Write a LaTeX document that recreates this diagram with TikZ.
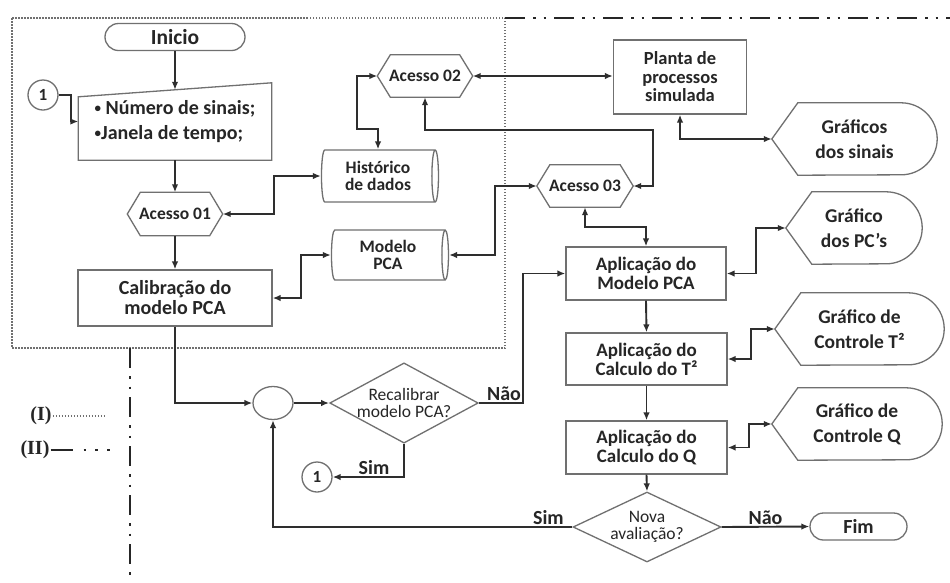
\documentclass[tikz,border=0pt]{standalone}
\usepackage{fontspec}
\setmainfont{Carlito}
\newfontfamily\legfont{Liberation Serif}
\usepackage{tikz}
\usetikzlibrary{shapes,arrows,arrows.meta,positioning}
\definecolor{linegray}{HTML}{707070}
\definecolor{arrowgray}{HTML}{2E2E2E}
\definecolor{txtgray}{HTML}{262626}
\newcommand{\smallbul}{\raisebox{1.5pt}{\fontsize{13}{13}\selectfont•}}

\begin{document}
\begin{tikzpicture}[x=1pt,y=-1pt,
  >={Latex[length=8pt,width=6.5pt]},
  every node/.style={text=txtgray},
  box/.style={draw=linegray,line width=1.3pt,rectangle,align=center,inner sep=0pt,font=\bfseries\fontsize{19}{19}\selectfont},
  term/.style={draw=linegray,line width=1.3pt,rounded rectangle,inner sep=0pt,font=\bfseries\fontsize{20}{20}\selectfont},
  hexa/.style={inner sep=0pt,font=\bfseries\fontsize{17.5}{17}\selectfont},
  disp/.style={inner sep=0pt,align=center,font=\bfseries\fontsize{19.5}{25}\selectfont},
  drum/.style={draw=linegray,line width=1.3pt,cylinder,aspect=0.22,inner sep=0pt,align=center,font=\bfseries\fontsize{17.5}{17.5}\selectfont},
  decis/.style={draw=linegray,line width=1.3pt,diamond,inner sep=0pt,align=center,font=\fontsize{17.5}{17}\selectfont},
  conn/.style={draw=linegray,line width=1.3pt,circle,inner sep=0pt,minimum size=30pt,font=\bfseries\fontsize{17}{17}\selectfont},
  outline/.style={draw=linegray,line width=1.3pt},
  flow/.style={draw=arrowgray,line width=1.9pt},
  lbl/.style={font=\bfseries\fontsize{20}{20}\selectfont,inner sep=1pt},
  partI/.style={draw=linegray,line width=1.2pt,dash pattern=on 1.5pt off 1.5pt},
  partII/.style={draw=black!85,line width=2.7pt,dash pattern=on 20pt off 8pt on 2.5pt off 8pt on 2.5pt off 8pt}
]
\path[fill=white] (0,0) rectangle (950,582);
\useasboundingbox (0,0) rectangle (950,582);

\draw[partI] (12,18) rectangle (505,348);
\draw[partII] (505,18) -- (950,18);
\draw[partII] (130,348) -- (130,582);

\node[term,minimum width=140pt,minimum height=27pt,font=\bfseries\fontsize{21.5}{21}\selectfont] (ini) at (175,37) {Inicio};
\node[conn] (c1a) at (43,95) {1};
\node[inner sep=0pt,minimum width=193pt,minimum height=77pt,align=left,font=\bfseries\fontsize{20}{25}\selectfont] (inp) at (175,121.5) {\smallbul\ Número de sinais;\\\smallbul Janela de tempo;};
\node[hexa,minimum width=95pt,minimum height=43pt] (a01) at (175,214) {Acesso 01};
\node[box,minimum width=194pt,minimum height=56pt,font=\bfseries\fontsize{20}{20}\selectfont] (cal) at (175,298) {Calibração do\\modelo PCA};
\node[drum,minimum height=117pt,minimum width=52pt] (hist) at (378,176) {Histórico\\de dados};
\node[hexa,minimum width=95pt,minimum height=42pt] (a02) at (425,76) {Acesso 02};
\node[box,minimum width=133pt,minimum height=74pt,font=\bfseries\fontsize{18.5}{18.5}\selectfont] (planta) at (680,77) {Planta de\\processos\\simulada};
\node[hexa,minimum width=96pt,minimum height=42pt] (a03) at (585,186) {Acesso 03};
\node[drum,minimum height=117pt,minimum width=50pt] (mpca) at (388,255) {Modelo\\PCA};
\node[disp,minimum width=165pt,minimum height=72pt] (gs) at (854.5,139) {Gráficos\\dos sinais};
\node[box,minimum width=160pt,minimum height=53pt] (apm) at (646,273.5) {Aplicação do\\Modelo PCA};
\node[disp,minimum width=136pt,minimum height=72pt] (gpc) at (854,228) {Gráfico\\dos PC’s};
\node[box,minimum width=161pt,minimum height=52pt] (apt) at (646.5,359) {Aplicação do\\Calculo do T²};
\node[disp,minimum width=169pt,minimum height=72pt] (gt) at (859.5,329) {Gráfico de\\Controle T²};
\node[box,minimum width=161pt,minimum height=53pt] (apq) at (646.5,447.5) {Aplicação do\\Calculo do Q};
\node[disp,minimum width=170pt,minimum height=72pt] (gq) at (857,424) {Gráfico de\\Controle Q};
\node[decis,aspect=2.1,minimum width=148pt,minimum height=70pt] (nova) at (647,527) {Nova\\avaliação?};
\node[term,minimum width=97pt,minimum height=27pt] (fim) at (858.5,526.5) {Fim};
\node[draw=linegray,line width=1.3pt,ellipse,minimum width=40pt,minimum height=33pt,inner sep=0pt] (mrg) at (273,403) {};
\node[decis,aspect=1.85,minimum width=148pt,minimum height=80pt] (rec) at (404,403) {Recalibrar\\modelo PCA?};
\node[conn] (c1b) at (317,477) {1};

\draw[outline] (inp.south west) -- ([yshift=-14pt]inp.north west) -- (inp.north east) -- (inp.south east) -- cycle;
\foreach \n in {a01,a02,a03}
  \draw[outline] (\n.west) -- ([xshift=13pt]\n.north west) -- ([xshift=-13pt]\n.north east) -- (\n.east)
    -- ([xshift=-13pt]\n.south east) -- ([xshift=13pt]\n.south west) -- cycle;
\foreach \n in {gs,gpc,gt,gq}
  \draw[outline] (\n.west) -- ([xshift=26pt]\n.north west) -- ([xshift=-36pt]\n.north east)
    arc[start angle=90,end angle=-90,radius=36pt] -- ([xshift=26pt]\n.south west) -- cycle;

\coordinate (k1) at (653,130);
\draw[flow,->] (ini.south) -- ([yshift=-7pt]inp.north);
\draw[flow,->] (c1a.east) -- ++(12,0) |- (inp.west);
\draw[flow,->] (inp.south) -- (a01.north);
\draw[flow,->] (a01.south) -- (cal.north);
\draw[flow,<->] (hist.west) -- ++(-47,0) |- (a01.east);
\draw[flow,<->] (hist.north) -- ++(0,-20) -- ++(-21,0) |- (a02.west);
\draw[flow,<->] (a02.east) -- (a02.east -| planta.west);
\draw[flow,<->] (a02.south) |- (k1) |- (a03.east);
\draw[flow,<->] (mpca.east) -- ++(46,0) |- (a03.west);
\draw[flow,<->] (mpca.west) -- ++(-30,0) |- (cal.east);
\draw[flow,<->] (planta.south) |- (gs.west);
\draw[flow,<->] (a03.south) -- ++(0,20) -| (apm.north);
\draw[flow,<->] (apm.east) -- ++(29,0) |- (gpc.west);
\draw[flow,->] (apm.south) -- (apt.north);
\draw[flow,<->] (apt.east) -- ++(23,0) |- (gt.west);
\draw[flow,->] (apt.south) -- (apq.north);
\draw[flow,<->] (apq.east) -- ++(21,0) |- (gq.west);
\draw[flow,->] (apq.south) -- (nova.north);
\draw[flow,->] (nova.east) -- node[lbl,above]{Não} (fim.west);
\draw[flow,->] (nova.west) -| node[lbl,above,pos=0.04]{Sim} (mrg.south);
\draw[flow,->] (cal.south) |- (mrg.west);
\draw[flow,->] (mrg.east) -- (rec.west);
\draw[flow,->] (rec.south) |- node[lbl,above,pos=0.71]{Sim} (c1b.east);
\draw[flow,->] (rec.east) -- ++(44,0) node[lbl,above left]{Não} |- (apm.west);

\node[inner sep=1pt,font=\legfont\bfseries\fontsize{20}{20}\selectfont] (lgI) at (41,416) {(I)};
\node[inner sep=1pt,font=\legfont\bfseries\fontsize{20}{20}\selectfont] (lgII) at (35,450) {(II)};
\draw[partI] (lgI.east) -- ++(52,0);
\draw[black!85,line width=2.7pt] (lgII.east) -- ++(22,0);
\draw[black!85,line width=2.7pt,dash pattern=on 2.7pt off 9pt] ([xshift=33pt]lgII.east) -- ++(26,0);
\end{tikzpicture}
\end{document}
